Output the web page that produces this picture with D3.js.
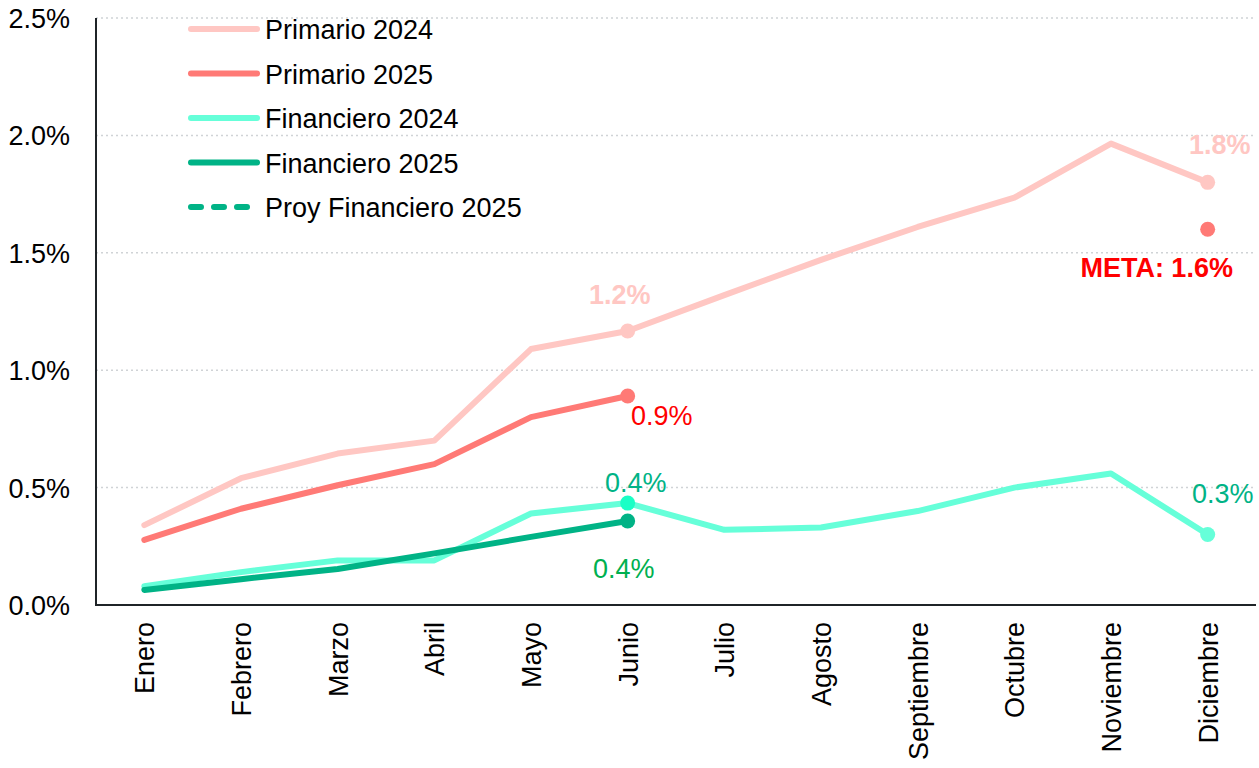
<!DOCTYPE html>
<html>
<head>
<meta charset="utf-8">
<script src="https://cdn.jsdelivr.net/npm/d3@7"></script>
<style>
  body { margin: 0; background: #fff; }
  text { font-family: Arial, "Liberation Sans", sans-serif; }
</style>
</head>
<body>
<script>
var months = ["Enero", "Febrero", "Marzo", "Abril", "Mayo", "Junio", "Julio", "Agosto", "Septiembre", "Octubre", "Noviembre", "Diciembre"];
var primario2024 = [0.34, 0.54, 0.645, 0.70, 1.09, 1.167, 1.32, 1.47, 1.61, 1.735, 1.965, 1.80];
var primario2025 = [0.277, 0.41, 0.51, 0.60, 0.80, 0.89];
var financiero2024 = [0.08, 0.14, 0.19, 0.19, 0.39, 0.434, 0.32, 0.33, 0.40, 0.50, 0.56, 0.30];
var financiero2025 = [0.064, 0.11, 0.153, 0.22, 0.29, 0.358];
var meta = 1.60;
var yTicks = [0, 0.5, 1.0, 1.5, 2.0, 2.5];
var legendNames = ["Primario 2024", "Primario 2025", "Financiero 2024", "Financiero 2025", "Proy Financiero 2025"];

var width = 1259, height = 768;
var margin = { left: 96, right: 3, top: 18, bottom: 163 };
var fs = "27px";

var svg = d3.select("body").append("svg").attr("width", width).attr("height", height);

var x = d3.scalePoint().domain(months).range([margin.left, width - margin.right]).padding(0.5);
var y = d3.scaleLinear().domain([0, 2.5]).range([height - margin.bottom, margin.top]);

// gridlines
svg.append("g").selectAll("line")
  .data(yTicks.slice(1))
  .enter().append("line")
  .attr("x1", margin.left).attr("x2", width - margin.right)
  .attr("y1", function (d) { return y(d); }).attr("y2", function (d) { return y(d); })
  .style("stroke", "#d0d3d6").style("stroke-width", 1.5).style("stroke-dasharray", "2,3");

// y labels
svg.append("g").selectAll("text")
  .data(yTicks)
  .enter().append("text")
  .attr("x", 70).attr("y", function (d) { return y(d) + 10; })
  .attr("text-anchor", "end")
  .style("font-size", fs).style("fill", "#000")
  .text(function (d) { return d.toFixed(1) + "%"; });

// x labels
svg.append("g").selectAll("text")
  .data(months)
  .enter().append("text")
  .attr("transform", function (d) { return "translate(" + (x(d) + 10) + ",622) rotate(-90)"; })
  .attr("text-anchor", "end")
  .style("font-size", fs).style("fill", "#000")
  .text(function (d) { return d; });

// axis lines
svg.append("path")
  .attr("d", "M" + margin.left + "," + margin.top + "V" + y(0) + "H" + (width - margin.right))
  .style("fill", "none").style("stroke", "#1f2428").style("stroke-width", 2);

var line = d3.line()
  .x(function (d, i) { return x(months[i]); })
  .y(function (d) { return y(d); });

var series = [
  { data: primario2024, color: "#ffc7c3" },
  { data: primario2025, color: "#ff7a76" },
  { data: financiero2024, color: "#66ffd9" },
  { data: financiero2025, color: "#00b386" }
];

series.forEach(function (s) {
  svg.append("path")
    .attr("d", line(s.data))
    .style("fill", "none").style("stroke", s.color)
    .style("stroke-width", 6).style("stroke-linecap", "round").style("stroke-linejoin", "round");
});

// markers
var dots = [
  { i: 5, v: primario2024[5], color: "#ffc7c3" },
  { i: 11, v: primario2024[11], color: "#ffc7c3" },
  { i: 5, v: primario2025[5], color: "#ff7a76" },
  { i: 11, v: meta, color: "#ff7a76" },
  { i: 5, v: financiero2024[5], color: "#1affc6" },
  { i: 11, v: financiero2024[11], color: "#66ffd9" },
  { i: 5, v: financiero2025[5], color: "#00b386" }
];
svg.append("g").selectAll("circle")
  .data(dots)
  .enter().append("circle")
  .attr("cx", function (d) { return x(months[d.i]); })
  .attr("cy", function (d) { return y(d.v); })
  .attr("r", 7.5)
  .style("fill", function (d) { return d.color; });

// data labels
var labels = [
  { i: 5, v: primario2024[5], dx: -8, dy: -27, text: "1.2%", color: "#ffc7c3", bold: true },
  { i: 11, v: primario2024[11], dx: 12, dy: -28, text: "1.8%", color: "#ffc7c3", bold: true },
  { i: 5, v: primario2025[5], dx: 34, dy: 29, text: "0.9%", color: "#ff0000", bold: false },
  { i: 11, v: meta, dx: -51, dy: 48, text: "META: 1.6%", color: "#ff0000", bold: true },
  { i: 5, v: financiero2024[5], dx: 8, dy: -11, text: "0.4%", color: "#00b386", bold: false },
  { i: 11, v: financiero2024[11], dx: 15, dy: -32, text: "0.3%", color: "#00b386", bold: false },
  { i: 5, v: financiero2025[5], dx: -4, dy: 57, text: "0.4%", color: "#00b050", bold: false }
];
svg.append("g").selectAll("text")
  .data(labels)
  .enter().append("text")
  .attr("x", function (d) { return x(months[d.i]) + d.dx; })
  .attr("y", function (d) { return y(d.v) + d.dy; })
  .attr("text-anchor", "middle")
  .style("font-size", fs)
  .style("font-weight", function (d) { return d.bold ? "bold" : "normal"; })
  .style("fill", function (d) { return d.color; })
  .text(function (d) { return d.text; });

// legend
var legendColors = ["#ffc7c3", "#ff7a76", "#66ffd9", "#00b386", "#00b386"];
var legend = svg.append("g");
legendNames.forEach(function (name, i) {
  var ly = 29 + i * 44.5;
  legend.append("line")
    .attr("x1", 191).attr("x2", 257).attr("y1", ly).attr("y2", ly)
    .style("stroke", legendColors[i]).style("stroke-width", 6).style("stroke-linecap", "round")
    .style("stroke-dasharray", i === 4 ? "10,13" : null);
  legend.append("text")
    .attr("x", 265).attr("y", ly + 10)
    .style("font-size", fs).style("fill", "#000")
    .text(name);
});
</script>
</body>
</html>
